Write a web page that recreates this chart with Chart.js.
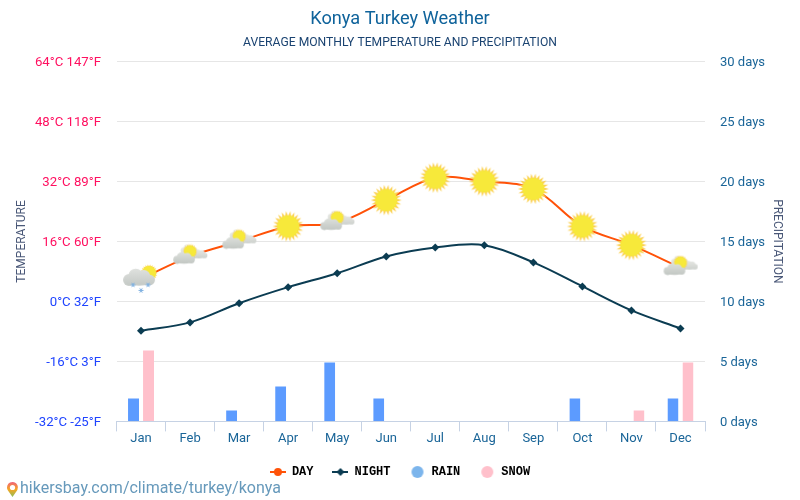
<!DOCTYPE html>
<html>
<head>
<meta charset="utf-8">
<title>Konya Turkey Weather</title>
<script src="https://cdn.jsdelivr.net/npm/chart.js@4"></script>
<style>
    html, body { margin: 0; padding: 0; background: #fff; }
    canvas { display: block; }
</style>
</head>
<body>
<canvas id="grafico" width="800" height="500"></canvas>
<script>
const meses = ['Jan', 'Feb', 'Mar', 'Apr', 'May', 'Jun', 'Jul', 'Aug', 'Sep', 'Oct', 'Nov', 'Dec'];
const tempDia = [6, 12, 16, 20, 21, 27, 33, 32, 30, 20, 15, 9];
const tempNoche = [-7.8, -5.6, -0.5, 3.8, 7.5, 12, 14.4, 15, 10.4, 4, -2.4, -7.2];
const lluvia = [2, 0, 1, 3, 5, 2, 0, 0, 0, 2, 0, 2];
const nieve = [6, 0, 0, 0, 0, 0, 0, 0, 0, 0, 1, 5];
const iconosDia = ['nieve', 'parcial', 'parcial', 'sol', 'parcial', 'sol', 'sol', 'sol', 'sol', 'sol', 'sol', 'parcial'];
const ticksTemp = {
    '64': '64°C 147°F', '48': '48°C 118°F', '32': '32°C 89°F', '16': '16°C 60°F',
    '0': '0°C 32°F', '-16': '-16°C 3°F', '-32': '-32°C -25°F'
};

const COLOR_DIA = '#FF5208';
const COLOR_NOCHE = '#0B3C52';
const COLOR_LLUVIA = '#5C9BFF';
const COLOR_NIEVE = '#FFC0CB';
const COLOR_AZUL = '#1A6598';

function nuevoLienzo(ancho, alto) {
    const lienzo = document.createElement('canvas');
    lienzo.width = ancho;
    lienzo.height = alto;
    return lienzo;
}

function dibujarSol(ctx, x, y, radio, largo) {
    const puntas = 22;
    ctx.fillStyle = '#FBD04E';
    ctx.beginPath();
    for (let i = 0; i < puntas * 2; i++) {
        const r = i % 2 === 0 ? radio + largo : radio - 0.5;
        const a = i * Math.PI / puntas;
        ctx.lineTo(x + Math.cos(a) * r, y + Math.sin(a) * r);
    }
    ctx.closePath();
    ctx.fill();
    ctx.fillStyle = '#F7E93A';
    ctx.beginPath();
    ctx.arc(x, y, radio, 0, Math.PI * 2);
    ctx.fill();
}

// cada bulto de la nube es un circulo aparte para que el borde quede redondeado
function dibujarNube(ctx, x, y, escala, claro, oscuro) {
    const degradado = ctx.createLinearGradient(0, y - 7 * escala, 0, y + 6 * escala);
    degradado.addColorStop(0, claro);
    degradado.addColorStop(1, oscuro);
    ctx.fillStyle = degradado;
    [[-7.5, 1.5, 4.5], [-2.5, -1.5, 5.5], [3.5, -1, 5], [8, 1.5, 4]].forEach(([dx, dy, r]) => {
        ctx.beginPath();
        ctx.arc(x + dx * escala, y + dy * escala, r * escala, 0, Math.PI * 2);
        ctx.fill();
    });
    ctx.beginPath();
    ctx.ellipse(x, y + 2.2 * escala, 11 * escala, 3.6 * escala, 0, 0, Math.PI * 2);
    ctx.fill();
}

function iconoSol() {
    const lienzo = nuevoLienzo(34, 34);
    dibujarSol(lienzo.getContext('2d'), 17, 17, 11, 4.5);
    return lienzo;
}

function iconoParcial() {
    const lienzo = nuevoLienzo(36, 26);
    const ctx = lienzo.getContext('2d');
    dibujarNube(ctx, 17, 6, 0.7, '#EDEEEA', '#DADDD9');
    dibujarNube(ctx, 27, 11, 0.7, '#E6E7E3', '#CDD1CD');
    dibujarSol(ctx, 18, 8, 6, 1.6);
    dibujarNube(ctx, 12, 15, 0.9, '#DDE0DC', '#C2C7C3');
    return lienzo;
}

function iconoNieve() {
    const lienzo = nuevoLienzo(36, 30);
    const ctx = lienzo.getContext('2d');
    dibujarSol(ctx, 26, 9, 7, 1.6);
    dibujarNube(ctx, 16, 14, 1.33, '#E0E2DF', '#C4C9C5');
    ctx.strokeStyle = '#7FB0E0';
    ctx.lineWidth = 1;
    [[10, 21], [25, 21], [18, 26.5]].forEach(([x, y]) => {
        for (let i = 0; i < 3; i++) {
            const a = i * Math.PI / 3;
            ctx.beginPath();
            ctx.moveTo(x - Math.cos(a) * 2.5, y - Math.sin(a) * 2.5);
            ctx.lineTo(x + Math.cos(a) * 2.5, y + Math.sin(a) * 2.5);
            ctx.stroke();
        }
    });
    return lienzo;
}

function marcaLeyenda(color, forma) {
    const lienzo = nuevoLienzo(16, 12);
    const ctx = lienzo.getContext('2d');
    ctx.fillStyle = color;
    ctx.beginPath();
    if (forma === 'rombo') {
        ctx.fillRect(0, 5, 16, 2);
        ctx.moveTo(8, 2); ctx.lineTo(12, 6); ctx.lineTo(8, 10); ctx.lineTo(4, 6);
    } else if (forma === 'circulo') {
        ctx.fillRect(0, 5, 16, 2);
        ctx.arc(8, 6, 4, 0, Math.PI * 2);
    } else {
        ctx.arc(8, 6, 6, 0, Math.PI * 2);
    }
    ctx.fill();
    return lienzo;
}

const imagenes = { sol: iconoSol(), parcial: iconoParcial(), nieve: iconoNieve() };

const pieDePagina = {
    id: 'pieDePagina',
    afterDraw(chart) {
        const ctx = chart.ctx;
        ctx.save();
        const gradiente = ctx.createLinearGradient(12, 482, 12, 497);
        gradiente.addColorStop(0, '#F0647A');
        gradiente.addColorStop(0.5, '#F5A623');
        gradiente.addColorStop(1, '#8CBF5A');
        ctx.fillStyle = gradiente;
        ctx.beginPath();
        ctx.arc(12.5, 487.5, 5.5, Math.PI * 0.85, Math.PI * 0.15);
        ctx.lineTo(12.5, 497);
        ctx.closePath();
        ctx.fill();
        ctx.fillStyle = '#fff';
        ctx.beginPath();
        ctx.arc(12.5, 487.5, 2.6, 0, Math.PI * 2);
        ctx.fill();
        ctx.fillStyle = '#6699BB';
        ctx.font = '16px Roboto';
        ctx.textBaseline = 'middle';
        ctx.fillText('hikersbay.com/climate/turkey/konya', 20, 489);
        ctx.restore();
    }
};

new Chart(document.querySelector('#grafico'), {
    data: {
        labels: meses,
        datasets: [
            {
                type: 'line', label: 'DAY', data: tempDia, yAxisID: 'yTemp', order: 1,
                borderColor: COLOR_DIA, borderWidth: 2, tension: 0.35,
                pointStyle: iconosDia.map(i => imagenes[i]), pointRadius: 15
            },
            {
                type: 'line', label: 'NIGHT', data: tempNoche, yAxisID: 'yTemp', order: 2,
                borderColor: COLOR_NOCHE, backgroundColor: COLOR_NOCHE, borderWidth: 2, tension: 0.35,
                pointStyle: 'rectRot', pointRadius: 4, pointBorderWidth: 0
            },
            {
                type: 'bar', label: 'RAIN', data: lluvia, yAxisID: 'yDias', order: 3,
                backgroundColor: COLOR_LLUVIA, borderColor: '#fff', borderWidth: { top: 1 },
                categoryPercentage: 0.612, barPercentage: 0.733
            },
            {
                type: 'bar', label: 'SNOW', data: nieve, yAxisID: 'yDias', order: 4,
                backgroundColor: COLOR_NIEVE, borderColor: '#fff', borderWidth: { top: 1 },
                categoryPercentage: 0.612, barPercentage: 0.733
            }
        ]
    },
    options: {
        responsive: false,
        animation: false,
        devicePixelRatio: 1,
        layout: { padding: { top: 9, right: 14, bottom: 12, left: 14 } },
        plugins: {
            tooltip: { enabled: false },
            title: {
                display: true, text: 'Konya Turkey Weather', color: '#0F639B',
                font: { family: 'Roboto', size: 18.2, weight: 'normal' },
                padding: { top: 0, bottom: 5 }
            },
            subtitle: {
                display: true, text: 'AVERAGE MONTHLY TEMPERATURE AND PRECIPITATION', color: '#1A4371',
                font: { family: 'Roboto', size: 12.15, weight: 'normal' },
                padding: { top: 0, bottom: 11 }
            },
            legend: {
                position: 'bottom',
                labels: {
                    usePointStyle: true,
                    pointStyleWidth: 16,
                    padding: 19,
                    color: '#333',
                    font: { family: 'Liberation Mono', size: 12, weight: 'bold' },
                    generateLabels: () => [
                        { text: 'DAY', pointStyle: marcaLeyenda(COLOR_DIA, 'circulo'), lineWidth: 0 },
                        { text: 'NIGHT', pointStyle: marcaLeyenda(COLOR_NOCHE, 'rombo'), lineWidth: 0 },
                        { text: 'RAIN', pointStyle: marcaLeyenda('#7CB5EC', 'lleno'), lineWidth: 0 },
                        { text: 'SNOW', pointStyle: marcaLeyenda(COLOR_NIEVE, 'lleno'), lineWidth: 0 }
                    ]
                }
            }
        },
        scales: {
            x: {
                offset: true,
                border: { color: '#C6D2E4' },
                grid: { offset: true, drawOnChartArea: false, color: '#C6D2E4', tickLength: 10 },
                ticks: { color: COLOR_AZUL, font: { family: 'Roboto', size: 13 }, padding: 0, maxRotation: 0 }
            },
            yTemp: {
                position: 'left', min: -32, max: 64,
                border: { display: false },
                grid: { color: '#E6E6E6', drawTicks: false },
                title: {
                    display: true, text: 'TEMPERATURE', color: '#4A5878',
                    font: { family: 'Roboto', size: 12 }, padding: { top: 1, bottom: 8 }
                },
                ticks: {
                    stepSize: 16, padding: 15.5, labelOffset: 1,
                    color: ctx => ctx.tick.value > 0 ? '#FF1060' : '#1F44FF',
                    font: { family: 'Roboto', size: 13.2 },
                    callback: valor => ticksTemp[valor]
                },
                afterFit: escala => { escala.width = 102.5; }
            },
            yDias: {
                position: 'right', min: 0, max: 30,
                border: { display: false },
                grid: { drawOnChartArea: false, drawTicks: false },
                title: {
                    display: true, text: 'PRECIPITATION', color: '#4A5878',
                    font: { family: 'Roboto', size: 12 }, padding: { top: 2, bottom: 8 }
                },
                ticks: {
                    stepSize: 5, padding: 15, labelOffset: 1, color: COLOR_AZUL,
                    font: { family: 'Roboto', size: 13 },
                    callback: valor => valor + ' days'
                },
                afterFit: escala => { escala.width = 81; }
            }
        }
    },
    plugins: [pieDePagina]
});
</script>
</body>
</html>
